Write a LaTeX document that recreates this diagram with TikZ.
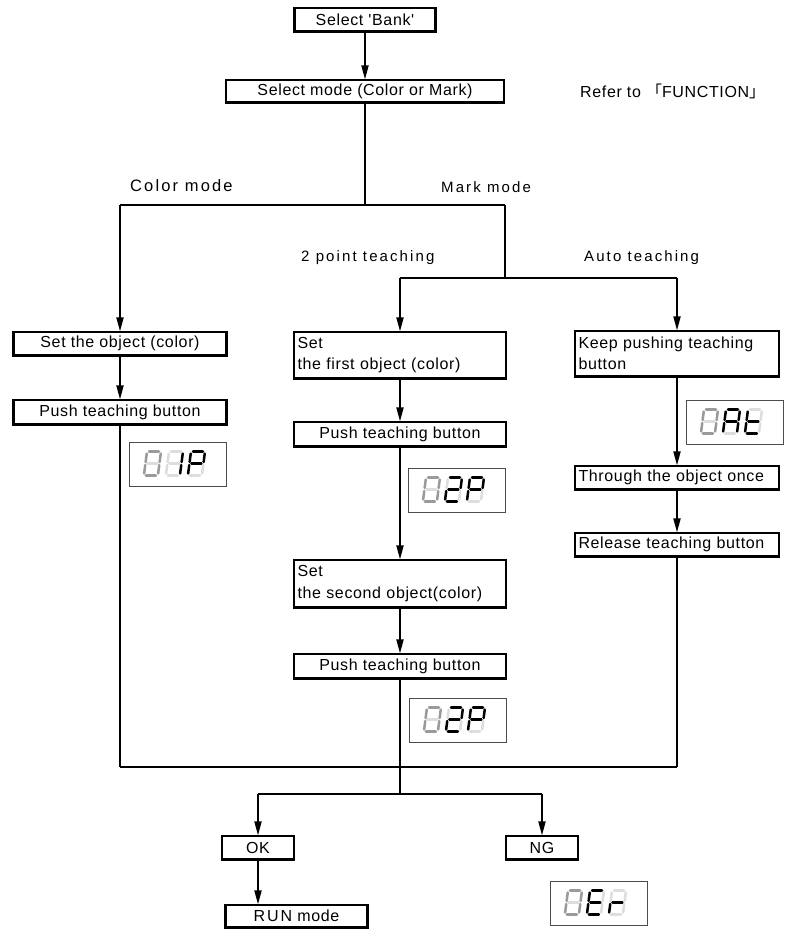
\documentclass[tikz,border=0pt]{standalone}
\usepackage{fontspec}
\setmainfont{Liberation Sans}
\newfontfamily\boxfont{Liberation Sans}[LetterSpace=4,Ligatures=TeXOff]
\newfontfamily\lblfont{Liberation Sans}[LetterSpace=14,Ligatures=TeXOff]
\newfontfamily\bigfont{Liberation Sans}[LetterSpace=13,Ligatures=TeXOff]
\newfontfamily\runfont{Liberation Sans}[LetterSpace=12,Ligatures=TeXOff]
\newfontfamily\cjkfont{Noto Sans CJK JP}
\usetikzlibrary{arrows.meta}
\definecolor{dg}{HTML}{9A9A9A}
\definecolor{lg}{HTML}{DDDDDD}
\newcommand\sseg[9]{%
  \begin{scope}[shift={(#1,#2)}]\begin{scope}[xslant=0.13]
    \draw[seg,#3] (2,0)--(12,0);
    \draw[seg,#4] (14,2)--(14,10.5);
    \draw[seg,#5] (14,13.5)--(14,22);
    \draw[seg,#6] (2,24)--(12,24);
    \draw[seg,#7] (0,13.5)--(0,22);
    \draw[seg,#8] (0,2)--(0,10.5);
    \draw[seg,#9] (2,12)--(12,12);
  \end{scope}\end{scope}}
\begin{document}
\begin{tikzpicture}[x=1pt,y=-1pt,
  box/.style={draw, line width=1.1pt, fill=white, inner sep=0pt,
    font=\boxfont\fontsize{16}{19}\selectfont},
  lbox/.style={box, align=left, inner xsep=3pt},
  lbl/.style={inner sep=0pt, anchor=west, font=\lblfont\fontsize{15}{18}\selectfont},
  conn/.style={line width=1.8pt},
  arr/.style={conn, -{Triangle[length=14pt,width=7pt]}},
  disp/.style={draw=black!70, line width=0.9pt, fill=white, minimum width=97pt,
    minimum height=44pt, inner sep=0pt, anchor=north west},
  seg/.style={line width=2.5pt, line cap=round},
  edge3/.style={line width=2.2pt}]
\useasboundingbox[fill=white] (0,0) rectangle (795,933);

% top
\node[box, minimum width=140pt, minimum height=23pt] (bank) at (365,19.5) {Select 'Bank'};
\node[box, minimum width=277pt, minimum height=22pt] (mode) at (365,91) {Select mode (Color or Mark)};
\node[inner sep=0pt, anchor=west, font=\boxfont\fontsize{16}{19}\selectfont] (refer) at (580,91)
  {Refer to {\cjkfont 「}FUNCTION{\cjkfont 」}};

\coordinate (j1) at (365,205);
\coordinate (cl) at (120,205);
\coordinate (cm) at (505,205);
\coordinate (j2) at (505,278);
\coordinate (ml) at (400,278);
\coordinate (mr) at (677,278);

\node[inner sep=0pt, anchor=west, font=\bigfont\fontsize{16.5}{19}\selectfont] (lcol) at (130,186) {Color mode};
\node[lbl] (lmark) at (441,187) {Mark mode};
\node[lbl] (l2p) at (301,258) {2 point teaching};
\node[lbl] (lauto) at (584,258) {Auto teaching};

% left column
\node[box, minimum width=212pt, minimum height=23pt] (set1) at (120,343.5) {Set the object (color)};
\node[box, minimum width=212pt, minimum height=24pt] (push1) at (120,412) {Push teaching button};
\node[disp] (disp1) at (129,442) {};

% middle column
\node[lbox, text width=205pt, minimum height=46pt, font=\boxfont\fontsize{16}{21.5}\selectfont] (set2) at (400,355)
  {Set\\the first object (color)};
\node[box, minimum width=211pt, minimum height=24pt] (push2) at (400,434) {Push teaching button};
\node[disp] (disp2) at (408,468) {};
\node[lbox, text width=205pt, minimum height=47pt, font=\boxfont\fontsize{16}{21.5}\selectfont] (set3) at (400,583.5)
  {Set\\the second object(color)};
\node[box, minimum width=211pt, minimum height=24pt] (push3) at (400,666) {Push teaching button};
\node[disp] (disp5) at (409,698) {};

% right column
\node[lbox, text width=197pt, minimum height=45pt, font=\boxfont\fontsize{16}{21.5}\selectfont] (keep) at (677,353.5)
  {Keep pushing teaching\\button};
\node[disp] (disp3) at (686,400) {};
\node[lbox, text width=197pt, minimum height=23pt] (through) at (677,477.5) {Through the object once};
\node[lbox, text width=197pt, minimum height=23pt] (release) at (677,544.5) {Release teaching button};

% bottom
\coordinate (b1) at (120,767);
\coordinate (b3) at (400,767);
\coordinate (b4) at (677,767);
\coordinate (j3) at (400,794);
\coordinate (j3l) at (258,794);
\coordinate (j3r) at (542,794);
\node[box, minimum width=71pt, minimum height=23pt] (ok) at (258,847.5) {OK};
\node[box, minimum width=71pt, minimum height=23pt] (ng) at (542,847.5) {NG};
\node[box, minimum width=141pt, minimum height=22pt] (run) at (296.5,916) {{\runfont RUN} mode};
\node[disp] (disp4) at (550,881) {};

% thick edges of the boxes
\foreach \n in {bank,mode,set1,push1,set2,push2,set3,push3,keep,through,release,ok,ng,run}
  \draw[edge3] (\n.north west) -- (\n.south west) -- (\n.south east) -- (\n.north east);

% connectors
\draw[arr] (bank) -- (mode);
\draw[conn] (mode.south) -- (j1);
\draw[conn] (cl) -- (cm);
\draw[arr] (cl) -- (set1);
\draw[conn] (cm) -- (j2);
\draw[conn] (ml) -- (mr);
\draw[arr] (ml) -- (set2);
\draw[arr] (mr) -- (keep);
\draw[arr] (set1) -- (push1);
\draw[conn] (push1.south) -- (b1);
\draw[arr] (set2) -- (push2);
\draw[arr] (push2) -- (set3);
\draw[arr] (set3) -- (push3);
\draw[conn] (push3.south) -- (j3);
\draw[arr] (keep) -- (through);
\draw[arr] (through) -- (release);
\draw[conn] (release.south) -- (b4);
\draw[conn] (b1) -- (b4);
\draw[conn] (j3l) -- (j3r);
\draw[arr] (j3l) -- (ok);
\draw[arr] (j3r) -- (ng);
\draw[arr] (ok.south) -- (ok.south |- run.north);

% seven segment displays
\begin{scope}[shift={(disp1.north west)}]
  \sseg{18}{9.5}{dg}{dg}{dg}{dg}{dg}{dg}{lg}
  \sseg{40}{9.5}{lg}{black}{black}{lg}{lg}{lg}{lg}
  \sseg{62}{9.5}{black}{black}{lg}{lg}{black}{black}{black}
\end{scope}
\begin{scope}[shift={(disp2.north west)}]
  \sseg{18}{9.5}{dg}{dg}{dg}{dg}{dg}{dg}{lg}
  \sseg{40}{9.5}{black}{black}{lg}{black}{black}{lg}{black}
  \sseg{62}{9.5}{black}{black}{lg}{lg}{black}{black}{black}
\end{scope}
\begin{scope}[shift={(disp5.north west)}]
  \sseg{18}{9.5}{dg}{dg}{dg}{dg}{dg}{dg}{lg}
  \sseg{40}{9.5}{black}{black}{lg}{black}{black}{lg}{black}
  \sseg{62}{9.5}{black}{black}{lg}{lg}{black}{black}{black}
\end{scope}
\begin{scope}[shift={(disp3.north west)}]
  \sseg{18}{9.5}{dg}{dg}{dg}{dg}{dg}{dg}{lg}
  \sseg{40}{9.5}{black}{black}{black}{lg}{black}{black}{black}
  \sseg{62}{9.5}{lg}{lg}{lg}{black}{black}{black}{black}
\end{scope}
\begin{scope}[shift={(disp4.north west)}]
  \sseg{18}{9.5}{dg}{dg}{dg}{dg}{dg}{dg}{lg}
  \sseg{40}{9.5}{black}{lg}{lg}{black}{black}{black}{black}
  \sseg{62}{9.5}{lg}{lg}{lg}{lg}{black}{lg}{black}
\end{scope}
\end{tikzpicture}
\end{document}
